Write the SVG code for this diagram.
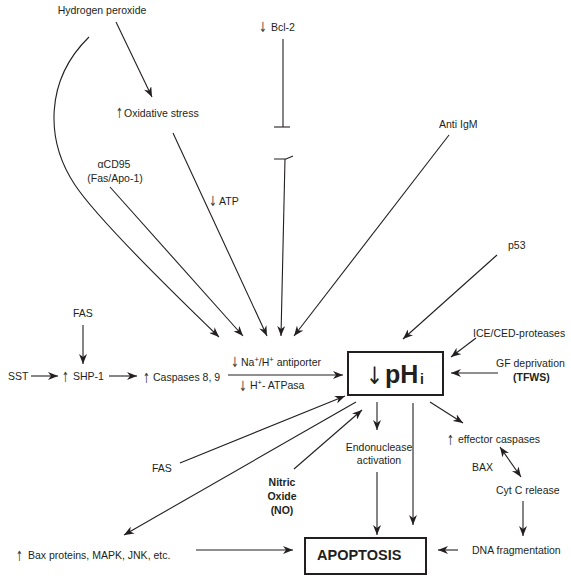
<svg xmlns="http://www.w3.org/2000/svg" width="571" height="582" viewBox="0 0 571 582">
<defs>
<style>
text{font-family:"Liberation Sans",Arial,sans-serif;font-size:10.5px;fill:#231f20}
.b{font-weight:bold}
.ar{font-family:"DejaVu Sans",sans-serif;font-size:14px;fill:#3a3a3a}
.sup{font-size:7.5px}
.c{fill:none;stroke:#231f20;stroke-width:1.1}
.a{marker-end:url(#ah)}
.d{marker-start:url(#ah);marker-end:url(#ah)}
.box{fill:#fff;stroke:#231f20;stroke-width:2}
</style>
<marker id="ah" viewBox="0 0 10 8" refX="10" refY="4" markerWidth="10" markerHeight="8" markerUnits="userSpaceOnUse" orient="auto-start-reverse">
<path d="M0,0 L10,4 L0,8 L3,4 z" fill="#231f20"/>
</marker>
</defs>
<rect width="571" height="582" fill="#fff"/>

<g id="connectors">
<path class="c a" d="M89,37 C45,80 45,140 75,185 C95,215 165,285 219,337"/>
<line class="c a" x1="116" y1="22" x2="152" y2="97"/>
<line class="c a" x1="173" y1="133" x2="267" y2="336"/>
<line class="c a" x1="110" y1="187" x2="243" y2="336"/>
<line class="c" x1="283" y1="39" x2="283" y2="127"/>
<line class="c" x1="274" y1="127" x2="290" y2="127"/>
<path class="c" d="M274,159 H286 L293,156"/>
<line class="c a" x1="285" y1="159" x2="281" y2="336"/>
<line class="c a" x1="449" y1="135" x2="294" y2="336"/>
<line class="c a" x1="497" y1="255" x2="403" y2="339"/>
<line class="c a" x1="476" y1="338" x2="451" y2="357"/>
<line class="c a" x1="498" y1="373" x2="451" y2="373"/>
<line class="c a" x1="83" y1="325" x2="83" y2="364"/>
<line class="c a" x1="31" y1="376" x2="58" y2="376"/>
<line class="c a" x1="109" y1="376" x2="137" y2="376"/>
<line class="c a" x1="228" y1="375" x2="343" y2="375"/>
<line class="c a" x1="180" y1="463" x2="345" y2="396"/>
<line class="c a" x1="294" y1="469" x2="362" y2="410"/>
<line class="c a" x1="356" y1="402" x2="124" y2="535"/>
<line class="c a" x1="377" y1="402" x2="377" y2="430"/>
<line class="c a" x1="377" y1="472" x2="377" y2="535"/>
<line class="c a" x1="413" y1="403" x2="413" y2="525"/>
<line class="c a" x1="430" y1="402" x2="463" y2="423"/>
<line class="c d" x1="500" y1="447" x2="521" y2="477"/>
<line class="c a" x1="523" y1="501" x2="523" y2="536"/>
<line class="c a" x1="458" y1="550" x2="438" y2="550"/>
<line class="c a" x1="196" y1="550" x2="293" y2="550"/>
</g>

<g id="h2o2"><text x="102" y="14" text-anchor="middle">Hydrogen peroxide</text></g>
<g id="bcl2"><text class="ar" x="259" y="32" textLength="8" lengthAdjust="spacingAndGlyphs">↓</text><text x="271" y="31">Bcl-2</text></g>
<g id="oxstress"><text class="ar" x="116" y="118" textLength="7" lengthAdjust="spacingAndGlyphs">↑</text><text x="124" y="117">Oxidative stress</text></g>
<g id="antiigm"><text x="439" y="128">Anti IgM</text></g>
<g id="cd95"><text x="114" y="168" text-anchor="middle">αCD95</text><text x="115" y="182" text-anchor="middle">(Fas/Apo-1)</text></g>
<g id="atp"><text class="ar" x="209" y="206" textLength="8" lengthAdjust="spacingAndGlyphs">↓</text><text x="219" y="205">ATP</text></g>
<g id="p53"><text x="508" y="249">p53</text></g>
<g id="fas1"><text x="73" y="317">FAS</text></g>
<g id="sst"><text x="8" y="380">SST</text></g>
<g id="shp1"><text class="ar" x="62" y="382" textLength="7" lengthAdjust="spacingAndGlyphs">↑</text><text x="73" y="380">SHP-1</text></g>
<g id="casp89"><text class="ar" x="143" y="383" textLength="7" lengthAdjust="spacingAndGlyphs">↑</text><text x="153" y="381">Caspases 8, 9</text></g>
<g id="antiporter"><text class="ar" x="231" y="367" textLength="8" lengthAdjust="spacingAndGlyphs">↓</text><text x="241" y="366">Na<tspan class="sup" dy="-4">+</tspan><tspan dy="4">/H</tspan><tspan class="sup" dy="-4">+</tspan><tspan dy="4"> antiporter</tspan></text></g>
<g id="atpasa"><text class="ar" x="239" y="391" textLength="8" lengthAdjust="spacingAndGlyphs">↓</text><text x="250" y="389">H<tspan class="sup" dy="-4">+</tspan><tspan dy="4">- ATPasa</tspan></text></g>
<g id="ice"><text x="473" y="337">ICE/CED-proteases</text></g>
<g id="gf"><text x="496" y="367">GF deprivation</text><text class="b" x="513" y="381">(TFWS)</text></g>
<g id="phi"><rect class="box" x="348" y="352" width="95" height="43"/><text x="366" y="384" textLength="17" lengthAdjust="spacingAndGlyphs" style="font-family:'DejaVu Sans',sans-serif;font-size:24px;fill:#231f20">↓</text><text class="b" x="385" y="383" style="font-size:25px">pH</text><text class="b" x="420" y="384" style="font-size:14px">i</text></g>
<g id="effector"><text class="ar" x="447" y="445" textLength="7" lengthAdjust="spacingAndGlyphs">↑</text><text x="458" y="443">effector caspases</text></g>
<g id="endo"><text x="379" y="451" text-anchor="middle">Endonuclease</text><text x="379" y="464" text-anchor="middle">activation</text></g>
<g id="fas2"><text x="152" y="472">FAS</text></g>
<g id="bax"><text x="472" y="471">BAX</text></g>
<g id="no"><text class="b" x="282" y="486" text-anchor="middle">Nitric</text><text class="b" x="282" y="500" text-anchor="middle">Oxide</text><text class="b" x="282" y="514" text-anchor="middle">(NO)</text></g>
<g id="cytc"><text x="496" y="494">Cyt C release</text></g>
<g id="dnafrag"><text x="472" y="554">DNA fragmentation</text></g>
<g id="baxprot"><text class="ar" x="16" y="561" textLength="7" lengthAdjust="spacingAndGlyphs">↑</text><text x="28" y="559">Bax proteins, MAPK, JNK, etc.</text></g>
<g id="apoptosis"><rect class="box" x="305" y="538" width="121" height="36"/><text class="b" x="317" y="560" style="font-size:14.5px">APOPTOSIS</text></g>
</svg>
